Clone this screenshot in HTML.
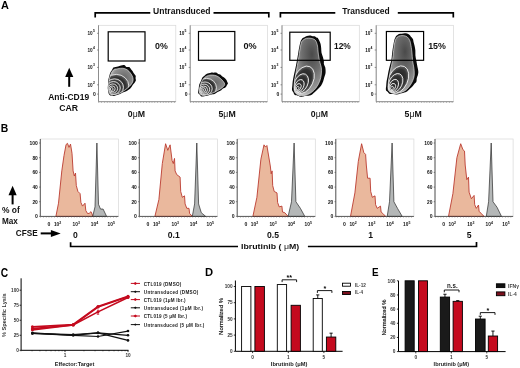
<!DOCTYPE html>
<html><head><meta charset="utf-8"><style>
html,body{margin:0;padding:0;background:#fff;width:520px;height:368px;overflow:hidden}
svg{display:block;font-family:"Liberation Sans",sans-serif;will-change:transform}
</style></head><body>
<svg width="520" height="368" viewBox="0 0 520 368">
<rect width="520" height="368" fill="#fff"/>
<defs>
<radialGradient id="gUn" cx="0.62" cy="0.38" r="0.65"><stop offset="0" stop-color="#666"/><stop offset="0.65" stop-color="#909090"/><stop offset="1" stop-color="#d8d8d8"/></radialGradient>
<radialGradient id="gTr" cx="0.62" cy="0.3" r="0.75" fx="0.65" fy="0.28"><stop offset="0" stop-color="#4a4a4a"/><stop offset="0.45" stop-color="#6e6e6e"/><stop offset="0.8" stop-color="#9a9a9a"/><stop offset="1" stop-color="#c8c8c8"/></radialGradient>
<radialGradient id="gRing" cx="0.5" cy="0.5" r="0.5"><stop offset="0" stop-color="#1c1c1c"/><stop offset="0.74" stop-color="#333"/><stop offset="1" stop-color="#666"/></radialGradient>
</defs>
<text x="1.00" y="9.00" font-size="11.2" font-weight="bold" fill="#000" text-anchor="start" textLength="7.9" lengthAdjust="spacingAndGlyphs" >A</text>
<g fill="none" stroke="#000" stroke-width="1.7">
<path d="M95.2,17.6 V12.8 H150.3"/>
<path d="M213.5,12.8 H268.8 V17.6"/>
<path d="M280.4,17.6 V12.8 H335.3"/>
<path d="M397.8,12.8 H453.3 V17.6"/>
</g>
<text x="153.10" y="14.40" font-size="8.8" font-weight="bold" fill="#111" text-anchor="start" textLength="57.5" lengthAdjust="spacingAndGlyphs" >Untransduced</text>
<text x="342.30" y="14.40" font-size="8.8" font-weight="bold" fill="#111" text-anchor="start" textLength="47.4" lengthAdjust="spacingAndGlyphs" >Transduced</text>
<rect x="98.5" y="25.3" width="77.3" height="76.4" fill="none" stroke="#d8d8d8" stroke-width="0.7"/>
<path d="M98.5,25.3 V101.7 H175.8" fill="none" stroke="#777" stroke-width="0.8"/>
<path d="M98.5,102.3 H175.8" fill="none" stroke="#888" stroke-width="1" stroke-dasharray="0.6,2.2"/>
<path d="M97.0,33.3 H98.5" stroke="#555" stroke-width="0.6"/>
<text x="87.50" y="35.00" font-size="5.0" font-weight="bold" fill="#111" text-anchor="start" textLength="5.2" lengthAdjust="spacingAndGlyphs" >10</text>
<text x="92.90" y="32.20" font-size="3.4" font-weight="bold" fill="#111" text-anchor="start" >5</text>
<path d="M97.0,50.0 H98.5" stroke="#555" stroke-width="0.6"/>
<text x="87.50" y="51.70" font-size="5.0" font-weight="bold" fill="#111" text-anchor="start" textLength="5.2" lengthAdjust="spacingAndGlyphs" >10</text>
<text x="92.90" y="48.90" font-size="3.4" font-weight="bold" fill="#111" text-anchor="start" >4</text>
<path d="M97.0,67.4 H98.5" stroke="#555" stroke-width="0.6"/>
<text x="87.50" y="69.10" font-size="5.0" font-weight="bold" fill="#111" text-anchor="start" textLength="5.2" lengthAdjust="spacingAndGlyphs" >10</text>
<text x="92.90" y="66.30" font-size="3.4" font-weight="bold" fill="#111" text-anchor="start" >3</text>
<path d="M97.0,84.8 H98.5" stroke="#555" stroke-width="0.6"/>
<text x="87.50" y="86.50" font-size="5.0" font-weight="bold" fill="#111" text-anchor="start" textLength="5.2" lengthAdjust="spacingAndGlyphs" >10</text>
<text x="92.90" y="83.70" font-size="3.4" font-weight="bold" fill="#111" text-anchor="start" >2</text>
<path d="M97.0,94.1 H98.5" stroke="#555" stroke-width="0.6"/>
<text x="93.10" y="95.90" font-size="5.0" font-weight="bold" fill="#111" text-anchor="start" >0</text>
<rect x="190.2" y="25.3" width="77.3" height="76.4" fill="none" stroke="#d8d8d8" stroke-width="0.7"/>
<path d="M190.2,25.3 V101.7 H267.5" fill="none" stroke="#777" stroke-width="0.8"/>
<path d="M190.2,102.3 H267.5" fill="none" stroke="#888" stroke-width="1" stroke-dasharray="0.6,2.2"/>
<path d="M188.7,33.3 H190.2" stroke="#555" stroke-width="0.6"/>
<text x="179.20" y="35.00" font-size="5.0" font-weight="bold" fill="#111" text-anchor="start" textLength="5.2" lengthAdjust="spacingAndGlyphs" >10</text>
<text x="184.60" y="32.20" font-size="3.4" font-weight="bold" fill="#111" text-anchor="start" >5</text>
<path d="M188.7,50.0 H190.2" stroke="#555" stroke-width="0.6"/>
<text x="179.20" y="51.70" font-size="5.0" font-weight="bold" fill="#111" text-anchor="start" textLength="5.2" lengthAdjust="spacingAndGlyphs" >10</text>
<text x="184.60" y="48.90" font-size="3.4" font-weight="bold" fill="#111" text-anchor="start" >4</text>
<path d="M188.7,67.4 H190.2" stroke="#555" stroke-width="0.6"/>
<text x="179.20" y="69.10" font-size="5.0" font-weight="bold" fill="#111" text-anchor="start" textLength="5.2" lengthAdjust="spacingAndGlyphs" >10</text>
<text x="184.60" y="66.30" font-size="3.4" font-weight="bold" fill="#111" text-anchor="start" >3</text>
<path d="M188.7,84.8 H190.2" stroke="#555" stroke-width="0.6"/>
<text x="179.20" y="86.50" font-size="5.0" font-weight="bold" fill="#111" text-anchor="start" textLength="5.2" lengthAdjust="spacingAndGlyphs" >10</text>
<text x="184.60" y="83.70" font-size="3.4" font-weight="bold" fill="#111" text-anchor="start" >2</text>
<path d="M188.7,94.1 H190.2" stroke="#555" stroke-width="0.6"/>
<text x="184.80" y="95.90" font-size="5.0" font-weight="bold" fill="#111" text-anchor="start" >0</text>
<rect x="282.0" y="25.3" width="77.3" height="76.4" fill="none" stroke="#d8d8d8" stroke-width="0.7"/>
<path d="M282.0,25.3 V101.7 H359.3" fill="none" stroke="#777" stroke-width="0.8"/>
<path d="M282.0,102.3 H359.3" fill="none" stroke="#888" stroke-width="1" stroke-dasharray="0.6,2.2"/>
<path d="M280.5,33.3 H282.0" stroke="#555" stroke-width="0.6"/>
<text x="271.00" y="35.00" font-size="5.0" font-weight="bold" fill="#111" text-anchor="start" textLength="5.2" lengthAdjust="spacingAndGlyphs" >10</text>
<text x="276.40" y="32.20" font-size="3.4" font-weight="bold" fill="#111" text-anchor="start" >5</text>
<path d="M280.5,50.0 H282.0" stroke="#555" stroke-width="0.6"/>
<text x="271.00" y="51.70" font-size="5.0" font-weight="bold" fill="#111" text-anchor="start" textLength="5.2" lengthAdjust="spacingAndGlyphs" >10</text>
<text x="276.40" y="48.90" font-size="3.4" font-weight="bold" fill="#111" text-anchor="start" >4</text>
<path d="M280.5,67.4 H282.0" stroke="#555" stroke-width="0.6"/>
<text x="271.00" y="69.10" font-size="5.0" font-weight="bold" fill="#111" text-anchor="start" textLength="5.2" lengthAdjust="spacingAndGlyphs" >10</text>
<text x="276.40" y="66.30" font-size="3.4" font-weight="bold" fill="#111" text-anchor="start" >3</text>
<path d="M280.5,84.8 H282.0" stroke="#555" stroke-width="0.6"/>
<text x="271.00" y="86.50" font-size="5.0" font-weight="bold" fill="#111" text-anchor="start" textLength="5.2" lengthAdjust="spacingAndGlyphs" >10</text>
<text x="276.40" y="83.70" font-size="3.4" font-weight="bold" fill="#111" text-anchor="start" >2</text>
<path d="M280.5,94.1 H282.0" stroke="#555" stroke-width="0.6"/>
<text x="276.60" y="95.90" font-size="5.0" font-weight="bold" fill="#111" text-anchor="start" >0</text>
<rect x="376.2" y="25.3" width="77.3" height="76.4" fill="none" stroke="#d8d8d8" stroke-width="0.7"/>
<path d="M376.2,25.3 V101.7 H453.5" fill="none" stroke="#777" stroke-width="0.8"/>
<path d="M376.2,102.3 H453.5" fill="none" stroke="#888" stroke-width="1" stroke-dasharray="0.6,2.2"/>
<path d="M374.7,33.3 H376.2" stroke="#555" stroke-width="0.6"/>
<text x="365.20" y="35.00" font-size="5.0" font-weight="bold" fill="#111" text-anchor="start" textLength="5.2" lengthAdjust="spacingAndGlyphs" >10</text>
<text x="370.60" y="32.20" font-size="3.4" font-weight="bold" fill="#111" text-anchor="start" >5</text>
<path d="M374.7,50.0 H376.2" stroke="#555" stroke-width="0.6"/>
<text x="365.20" y="51.70" font-size="5.0" font-weight="bold" fill="#111" text-anchor="start" textLength="5.2" lengthAdjust="spacingAndGlyphs" >10</text>
<text x="370.60" y="48.90" font-size="3.4" font-weight="bold" fill="#111" text-anchor="start" >4</text>
<path d="M374.7,67.4 H376.2" stroke="#555" stroke-width="0.6"/>
<text x="365.20" y="69.10" font-size="5.0" font-weight="bold" fill="#111" text-anchor="start" textLength="5.2" lengthAdjust="spacingAndGlyphs" >10</text>
<text x="370.60" y="66.30" font-size="3.4" font-weight="bold" fill="#111" text-anchor="start" >3</text>
<path d="M374.7,84.8 H376.2" stroke="#555" stroke-width="0.6"/>
<text x="365.20" y="86.50" font-size="5.0" font-weight="bold" fill="#111" text-anchor="start" textLength="5.2" lengthAdjust="spacingAndGlyphs" >10</text>
<text x="370.60" y="83.70" font-size="3.4" font-weight="bold" fill="#111" text-anchor="start" >2</text>
<path d="M374.7,94.1 H376.2" stroke="#555" stroke-width="0.6"/>
<text x="370.80" y="95.90" font-size="5.0" font-weight="bold" fill="#111" text-anchor="start" >0</text>
<path d="M108.56,93.24 C108.37,92.61 108.31,91.49 108.18,90.62 C108.04,89.75 107.76,89.13 107.75,88.03 C107.74,86.92 108.03,85.34 108.12,84.00 C108.21,82.66 108.11,81.25 108.29,79.99 C108.47,78.73 108.89,77.63 109.20,76.46 C109.50,75.29 109.69,73.98 110.14,72.95 C110.58,71.93 111.31,71.22 111.87,70.32 C112.42,69.42 112.83,68.11 113.48,67.56 C114.12,67.00 114.99,67.18 115.75,66.99 C116.50,66.80 117.13,66.66 118.00,66.41 C118.88,66.15 119.98,65.66 121.00,65.45 C122.03,65.23 123.24,64.87 124.14,65.12 C125.04,65.36 125.56,66.59 126.41,66.92 C127.27,67.25 128.53,66.74 129.29,67.12 C130.05,67.49 130.44,68.49 131.00,69.16 C131.56,69.83 132.18,70.40 132.67,71.14 C133.16,71.88 133.45,72.81 133.95,73.60 C134.45,74.39 135.39,75.10 135.66,75.87 C135.93,76.64 135.53,77.45 135.56,78.22 C135.60,78.99 136.05,79.74 135.89,80.48 C135.73,81.23 135.12,81.98 134.62,82.69 C134.11,83.40 133.35,84.09 132.86,84.76 C132.37,85.43 132.14,86.07 131.67,86.72 C131.20,87.36 130.65,88.05 130.03,88.63 C129.40,89.22 128.64,89.75 127.91,90.23 C127.18,90.71 126.50,91.12 125.63,91.49 C124.77,91.86 123.65,92.06 122.71,92.47 C121.78,92.87 120.97,93.51 120.02,93.92 C119.07,94.34 118.02,94.64 117.01,94.97 C116.00,95.30 114.76,95.82 113.94,95.92 C113.12,96.03 112.72,95.69 112.10,95.60 C111.47,95.52 110.65,95.61 110.19,95.41 C109.73,95.21 109.59,94.76 109.32,94.40 C109.04,94.04 108.75,93.87 108.56,93.24Z" fill="#0a0a0a"/>
<clipPath id="clb1"><path d="M109.27,92.35 C108.92,91.26 108.60,89.71 108.57,87.77 C108.54,85.84 108.75,82.93 109.10,80.73 C109.45,78.53 109.93,76.39 110.68,74.57 C111.43,72.75 112.44,70.79 113.59,69.82 C114.73,68.85 116.01,69.03 117.55,68.77 C119.09,68.50 121.21,68.06 122.83,68.24 C124.44,68.41 125.97,69.03 127.23,69.82 C128.49,70.61 129.47,71.76 130.39,72.99 C131.32,74.22 132.35,75.85 132.77,77.21 C133.20,78.58 133.28,79.88 132.95,81.17 C132.61,82.46 131.63,83.83 130.75,84.96 C129.87,86.09 128.77,87.01 127.67,87.95 C126.57,88.89 125.54,89.71 124.15,90.59 C122.75,91.47 120.99,92.55 119.31,93.23 C117.62,93.90 115.46,94.46 114.03,94.64 C112.59,94.81 111.47,94.67 110.68,94.29 C109.89,93.90 109.63,93.43 109.27,92.35Z"/></clipPath>
<path d="M109.27,92.35 C108.92,91.26 108.60,89.71 108.57,87.77 C108.54,85.84 108.75,82.93 109.10,80.73 C109.45,78.53 109.93,76.39 110.68,74.57 C111.43,72.75 112.44,70.79 113.59,69.82 C114.73,68.85 116.01,69.03 117.55,68.77 C119.09,68.50 121.21,68.06 122.83,68.24 C124.44,68.41 125.97,69.03 127.23,69.82 C128.49,70.61 129.47,71.76 130.39,72.99 C131.32,74.22 132.35,75.85 132.77,77.21 C133.20,78.58 133.28,79.88 132.95,81.17 C132.61,82.46 131.63,83.83 130.75,84.96 C129.87,86.09 128.77,87.01 127.67,87.95 C126.57,88.89 125.54,89.71 124.15,90.59 C122.75,91.47 120.99,92.55 119.31,93.23 C117.62,93.90 115.46,94.46 114.03,94.64 C112.59,94.81 111.47,94.67 110.68,94.29 C109.89,93.90 109.63,93.43 109.27,92.35Z" fill="url(#gUn)"/>
<g clip-path="url(#clb1)">
<ellipse cx="116.30" cy="85.90" rx="12.5" ry="11.5" transform="rotate(0 116.30 85.90)" fill="url(#gRing)" stroke="#eeeeee" stroke-width="0.85"/>
<ellipse cx="114.50" cy="87.30" rx="9.0" ry="8.5" transform="rotate(0 114.50 87.30)" fill="url(#gRing)" stroke="#eeeeee" stroke-width="0.85"/>
<ellipse cx="113.50" cy="88.00" rx="6.8" ry="6.5" transform="rotate(0 113.50 88.00)" fill="url(#gRing)" stroke="#eeeeee" stroke-width="0.85"/>
<ellipse cx="112.80" cy="88.50" rx="4.8" ry="4.6" transform="rotate(0 112.80 88.50)" fill="url(#gRing)" stroke="#eeeeee" stroke-width="0.85"/>
<ellipse cx="112.20" cy="88.80" rx="3.0" ry="2.9" transform="rotate(0 112.20 88.80)" fill="url(#gRing)" stroke="#eeeeee" stroke-width="0.85"/>
<ellipse cx="111.70" cy="89.00" rx="1.4" ry="1.4" transform="rotate(0 111.70 89.00)" fill="url(#gRing)" stroke="#eeeeee" stroke-width="0.85"/>
</g>
<path d="M109.27,92.35 C108.92,91.26 108.60,89.71 108.57,87.77 C108.54,85.84 108.75,82.93 109.10,80.73 C109.45,78.53 109.93,76.39 110.68,74.57 C111.43,72.75 112.44,70.79 113.59,69.82 C114.73,68.85 116.01,69.03 117.55,68.77 C119.09,68.50 121.21,68.06 122.83,68.24 C124.44,68.41 125.97,69.03 127.23,69.82 C128.49,70.61 129.47,71.76 130.39,72.99 C131.32,74.22 132.35,75.85 132.77,77.21 C133.20,78.58 133.28,79.88 132.95,81.17 C132.61,82.46 131.63,83.83 130.75,84.96 C129.87,86.09 128.77,87.01 127.67,87.95 C126.57,88.89 125.54,89.71 124.15,90.59 C122.75,91.47 120.99,92.55 119.31,93.23 C117.62,93.90 115.46,94.46 114.03,94.64 C112.59,94.81 111.47,94.67 110.68,94.29 C109.89,93.90 109.63,93.43 109.27,92.35Z" fill="none" stroke="#eeeeee" stroke-width="0.6"/>
<path d="M198.16,93.03 C197.97,92.04 198.51,90.20 198.70,88.78 C198.88,87.36 198.88,85.80 199.26,84.51 C199.63,83.21 200.42,82.18 200.95,81.00 C201.47,79.82 201.83,78.33 202.41,77.45 C202.99,76.56 203.76,76.28 204.44,75.69 C205.11,75.11 205.73,74.33 206.45,73.94 C207.18,73.54 208.01,73.55 208.76,73.33 C209.52,73.12 210.22,72.76 211.01,72.65 C211.80,72.55 212.65,72.72 213.50,72.70 C214.35,72.69 215.34,72.37 216.11,72.56 C216.87,72.76 217.38,73.55 218.09,73.88 C218.79,74.21 219.61,74.08 220.33,74.53 C221.04,74.98 221.60,75.96 222.37,76.58 C223.15,77.20 224.31,77.68 224.99,78.26 C225.68,78.84 226.08,79.45 226.47,80.07 C226.86,80.69 227.07,81.43 227.31,81.98 C227.56,82.54 227.99,82.91 227.95,83.38 C227.91,83.84 227.34,84.30 227.08,84.79 C226.82,85.27 226.75,85.79 226.41,86.29 C226.07,86.79 225.72,87.35 225.05,87.78 C224.38,88.22 223.09,88.42 222.38,88.89 C221.68,89.35 221.60,90.04 220.81,90.58 C220.01,91.11 218.66,91.51 217.62,92.09 C216.58,92.67 215.72,93.64 214.58,94.05 C213.43,94.47 212.02,94.29 210.75,94.58 C209.49,94.88 208.07,95.58 206.97,95.85 C205.88,96.12 205.10,96.10 204.17,96.20 C203.25,96.30 202.17,96.70 201.45,96.45 C200.73,96.20 200.39,95.27 199.85,94.70 C199.30,94.13 198.35,94.01 198.16,93.03Z" fill="#0a0a0a"/>
<clipPath id="clb2"><path d="M199.43,92.33 C199.13,90.65 199.84,87.30 200.46,85.11 C201.07,82.91 202.11,80.64 203.12,79.16 C204.14,77.67 205.35,76.88 206.56,76.18 C207.78,75.49 209.07,75.13 210.43,74.99 C211.80,74.85 213.42,75.03 214.73,75.33 C216.05,75.63 217.13,76.00 218.35,76.78 C219.56,77.56 221.04,78.97 222.04,80.01 C223.05,81.04 223.96,82.09 224.37,82.98 C224.77,83.87 224.84,84.57 224.45,85.36 C224.07,86.15 223.02,86.96 222.04,87.74 C221.07,88.52 220.04,89.21 218.60,90.04 C217.17,90.86 215.38,91.89 213.44,92.67 C211.51,93.45 208.86,94.29 206.99,94.71 C205.13,95.14 203.53,95.62 202.26,95.22 C201.00,94.82 199.73,94.02 199.43,92.33Z"/></clipPath>
<path d="M199.43,92.33 C199.13,90.65 199.84,87.30 200.46,85.11 C201.07,82.91 202.11,80.64 203.12,79.16 C204.14,77.67 205.35,76.88 206.56,76.18 C207.78,75.49 209.07,75.13 210.43,74.99 C211.80,74.85 213.42,75.03 214.73,75.33 C216.05,75.63 217.13,76.00 218.35,76.78 C219.56,77.56 221.04,78.97 222.04,80.01 C223.05,81.04 223.96,82.09 224.37,82.98 C224.77,83.87 224.84,84.57 224.45,85.36 C224.07,86.15 223.02,86.96 222.04,87.74 C221.07,88.52 220.04,89.21 218.60,90.04 C217.17,90.86 215.38,91.89 213.44,92.67 C211.51,93.45 208.86,94.29 206.99,94.71 C205.13,95.14 203.53,95.62 202.26,95.22 C201.00,94.82 199.73,94.02 199.43,92.33Z" fill="url(#gUn)"/>
<g clip-path="url(#clb2)">
<ellipse cx="206.48" cy="87.60" rx="10.0" ry="9.200000000000001" transform="rotate(0 206.48 87.60)" fill="url(#gRing)" stroke="#eeeeee" stroke-width="0.85"/>
<ellipse cx="205.04" cy="88.72" rx="7.2" ry="6.800000000000001" transform="rotate(0 205.04 88.72)" fill="url(#gRing)" stroke="#eeeeee" stroke-width="0.85"/>
<ellipse cx="204.24" cy="89.28" rx="5.44" ry="5.2" transform="rotate(0 204.24 89.28)" fill="url(#gRing)" stroke="#eeeeee" stroke-width="0.85"/>
<ellipse cx="203.68" cy="89.68" rx="3.84" ry="3.6799999999999997" transform="rotate(0 203.68 89.68)" fill="url(#gRing)" stroke="#eeeeee" stroke-width="0.85"/>
<ellipse cx="203.20" cy="89.92" rx="2.4000000000000004" ry="2.32" transform="rotate(0 203.20 89.92)" fill="url(#gRing)" stroke="#eeeeee" stroke-width="0.85"/>
<ellipse cx="202.80" cy="90.08" rx="1.1199999999999999" ry="1.1199999999999999" transform="rotate(0 202.80 90.08)" fill="url(#gRing)" stroke="#eeeeee" stroke-width="0.85"/>
</g>
<path d="M199.43,92.33 C199.13,90.65 199.84,87.30 200.46,85.11 C201.07,82.91 202.11,80.64 203.12,79.16 C204.14,77.67 205.35,76.88 206.56,76.18 C207.78,75.49 209.07,75.13 210.43,74.99 C211.80,74.85 213.42,75.03 214.73,75.33 C216.05,75.63 217.13,76.00 218.35,76.78 C219.56,77.56 221.04,78.97 222.04,80.01 C223.05,81.04 223.96,82.09 224.37,82.98 C224.77,83.87 224.84,84.57 224.45,85.36 C224.07,86.15 223.02,86.96 222.04,87.74 C221.07,88.52 220.04,89.21 218.60,90.04 C217.17,90.86 215.38,91.89 213.44,92.67 C211.51,93.45 208.86,94.29 206.99,94.71 C205.13,95.14 203.53,95.62 202.26,95.22 C201.00,94.82 199.73,94.02 199.43,92.33Z" fill="none" stroke="#eeeeee" stroke-width="0.6"/>
<path d="M302.18,38.51 C302.70,38.04 303.74,37.63 304.53,37.24 C305.32,36.84 306.03,36.43 306.90,36.12 C307.77,35.82 308.81,35.39 309.76,35.40 C310.71,35.41 311.79,36.04 312.59,36.19 C313.39,36.34 313.94,36.08 314.57,36.28 C315.20,36.48 315.84,37.14 316.35,37.38 C316.86,37.63 317.27,37.44 317.64,37.76 C318.01,38.08 318.21,38.72 318.55,39.32 C318.89,39.93 319.33,40.61 319.67,41.38 C320.02,42.14 320.36,42.79 320.61,43.93 C320.87,45.06 321.04,46.72 321.19,48.18 C321.34,49.64 321.24,51.25 321.51,52.70 C321.78,54.14 322.42,55.41 322.81,56.85 C323.20,58.28 323.69,60.06 323.88,61.30 C324.07,62.53 323.71,63.27 323.93,64.24 C324.16,65.22 324.94,66.07 325.22,67.15 C325.50,68.23 325.58,69.57 325.60,70.72 C325.63,71.87 325.61,72.88 325.37,74.04 C325.13,75.21 324.54,76.48 324.16,77.71 C323.79,78.94 323.64,80.07 323.11,81.41 C322.58,82.76 321.82,84.55 321.00,85.78 C320.19,87.01 319.30,87.73 318.23,88.81 C317.16,89.90 315.84,91.24 314.58,92.31 C313.33,93.38 312.16,94.66 310.72,95.25 C309.29,95.83 307.54,95.53 305.95,95.82 C304.37,96.12 302.54,97.00 301.20,97.01 C299.86,97.01 299.00,96.23 297.90,95.85 C296.80,95.48 295.34,95.34 294.58,94.75 C293.82,94.16 293.77,93.11 293.34,92.31 C292.92,91.52 292.20,91.10 292.03,90.01 C291.86,88.91 292.21,87.19 292.32,85.76 C292.43,84.32 292.49,82.92 292.70,81.40 C292.90,79.89 293.23,78.29 293.55,76.68 C293.88,75.08 294.22,73.70 294.64,71.78 C295.05,69.85 295.59,67.36 296.04,65.15 C296.49,62.93 296.95,60.54 297.33,58.47 C297.70,56.40 297.95,54.64 298.27,52.72 C298.59,50.81 298.97,48.42 299.24,47.00 C299.51,45.59 299.67,45.14 299.88,44.22 C300.10,43.30 300.30,42.17 300.56,41.49 C300.81,40.80 301.13,40.60 301.40,40.10 C301.67,39.61 301.65,38.99 302.18,38.51Z" fill="#0a0a0a"/>
<clipPath id="clb3"><path d="M302.42,40.67 C303.29,39.80 304.88,38.70 306.32,38.31 C307.75,37.91 309.73,38.13 311.05,38.31 C312.36,38.48 313.37,38.86 314.20,39.35 C315.03,39.84 315.47,40.12 316.03,41.24 C316.58,42.36 317.13,43.91 317.52,46.06 C317.91,48.20 317.96,51.40 318.35,54.09 C318.74,56.78 319.35,59.96 319.85,62.22 C320.34,64.47 321.09,65.65 321.34,67.60 C321.59,69.56 321.60,71.68 321.34,73.93 C321.08,76.19 320.69,78.72 319.76,81.12 C318.84,83.51 317.49,86.20 315.78,88.30 C314.06,90.39 311.84,92.42 309.47,93.68 C307.10,94.94 303.81,95.86 301.59,95.86 C299.36,95.86 297.37,94.80 296.11,93.68 C294.85,92.57 294.29,91.24 294.03,89.15 C293.77,87.05 294.18,83.97 294.53,81.12 C294.88,78.27 295.46,75.65 296.11,72.04 C296.76,68.44 297.78,63.37 298.43,59.48 C299.08,55.59 299.57,51.36 300.01,48.70 C300.45,46.04 300.69,44.84 301.09,43.51 C301.49,42.17 301.54,41.54 302.42,40.67Z"/></clipPath>
<path d="M302.42,40.67 C303.29,39.80 304.88,38.70 306.32,38.31 C307.75,37.91 309.73,38.13 311.05,38.31 C312.36,38.48 313.37,38.86 314.20,39.35 C315.03,39.84 315.47,40.12 316.03,41.24 C316.58,42.36 317.13,43.91 317.52,46.06 C317.91,48.20 317.96,51.40 318.35,54.09 C318.74,56.78 319.35,59.96 319.85,62.22 C320.34,64.47 321.09,65.65 321.34,67.60 C321.59,69.56 321.60,71.68 321.34,73.93 C321.08,76.19 320.69,78.72 319.76,81.12 C318.84,83.51 317.49,86.20 315.78,88.30 C314.06,90.39 311.84,92.42 309.47,93.68 C307.10,94.94 303.81,95.86 301.59,95.86 C299.36,95.86 297.37,94.80 296.11,93.68 C294.85,92.57 294.29,91.24 294.03,89.15 C293.77,87.05 294.18,83.97 294.53,81.12 C294.88,78.27 295.46,75.65 296.11,72.04 C296.76,68.44 297.78,63.37 298.43,59.48 C299.08,55.59 299.57,51.36 300.01,48.70 C300.45,46.04 300.69,44.84 301.09,43.51 C301.49,42.17 301.54,41.54 302.42,40.67Z" fill="url(#gTr)"/>
<g clip-path="url(#clb3)">
<ellipse cx="303.80" cy="79.80" rx="9.5" ry="14.5" transform="rotate(25 303.80 79.80)" fill="url(#gRing)" stroke="#eeeeee" stroke-width="0.85"/>
<ellipse cx="301.20" cy="83.20" rx="6.6" ry="10" transform="rotate(25 301.20 83.20)" fill="url(#gRing)" stroke="#eeeeee" stroke-width="0.85"/>
<ellipse cx="299.40" cy="85.70" rx="4.3" ry="6.5" transform="rotate(25 299.40 85.70)" fill="url(#gRing)" stroke="#eeeeee" stroke-width="0.85"/>
<ellipse cx="298.20" cy="87.30" rx="2.6" ry="3.9" transform="rotate(25 298.20 87.30)" fill="url(#gRing)" stroke="#eeeeee" stroke-width="0.85"/>
<ellipse cx="297.60" cy="88.20" rx="1.2" ry="1.8" transform="rotate(25 297.60 88.20)" fill="url(#gRing)" stroke="#eeeeee" stroke-width="0.85"/>
</g>
<path d="M302.42,40.67 C303.29,39.80 304.88,38.70 306.32,38.31 C307.75,37.91 309.73,38.13 311.05,38.31 C312.36,38.48 313.37,38.86 314.20,39.35 C315.03,39.84 315.47,40.12 316.03,41.24 C316.58,42.36 317.13,43.91 317.52,46.06 C317.91,48.20 317.96,51.40 318.35,54.09 C318.74,56.78 319.35,59.96 319.85,62.22 C320.34,64.47 321.09,65.65 321.34,67.60 C321.59,69.56 321.60,71.68 321.34,73.93 C321.08,76.19 320.69,78.72 319.76,81.12 C318.84,83.51 317.49,86.20 315.78,88.30 C314.06,90.39 311.84,92.42 309.47,93.68 C307.10,94.94 303.81,95.86 301.59,95.86 C299.36,95.86 297.37,94.80 296.11,93.68 C294.85,92.57 294.29,91.24 294.03,89.15 C293.77,87.05 294.18,83.97 294.53,81.12 C294.88,78.27 295.46,75.65 296.11,72.04 C296.76,68.44 297.78,63.37 298.43,59.48 C299.08,55.59 299.57,51.36 300.01,48.70 C300.45,46.04 300.69,44.84 301.09,43.51 C301.49,42.17 301.54,41.54 302.42,40.67Z" fill="none" stroke="#eeeeee" stroke-width="0.6"/>
<path d="M398.91,33.96 C399.62,33.73 400.80,33.76 401.75,33.64 C402.70,33.51 403.72,33.20 404.61,33.20 C405.49,33.19 406.26,33.34 407.05,33.61 C407.85,33.89 408.75,34.36 409.37,34.84 C409.98,35.32 410.28,35.98 410.75,36.51 C411.22,37.05 411.79,37.54 412.18,38.05 C412.57,38.56 412.86,38.90 413.09,39.58 C413.31,40.26 413.28,41.04 413.54,42.12 C413.79,43.20 414.30,44.63 414.61,46.04 C414.91,47.44 415.23,48.95 415.37,50.54 C415.50,52.14 415.28,54.00 415.42,55.62 C415.57,57.24 415.99,58.83 416.24,60.26 C416.50,61.68 416.71,62.87 416.96,64.17 C417.20,65.47 417.49,66.72 417.72,68.04 C417.95,69.37 418.33,70.90 418.34,72.12 C418.35,73.34 418.02,74.37 417.76,75.38 C417.50,76.38 417.01,77.10 416.78,78.16 C416.55,79.21 416.80,80.73 416.37,81.73 C415.93,82.73 414.85,83.30 414.15,84.15 C413.45,85.00 412.97,85.96 412.17,86.82 C411.37,87.69 410.30,88.52 409.36,89.34 C408.42,90.17 407.78,91.13 406.51,91.78 C405.24,92.43 403.33,92.79 401.74,93.24 C400.16,93.69 398.43,94.35 397.00,94.48 C395.58,94.62 394.48,94.17 393.20,94.04 C391.93,93.90 390.30,94.04 389.37,93.66 C388.45,93.28 388.25,92.37 387.67,91.75 C387.10,91.13 386.17,90.94 385.93,89.92 C385.69,88.89 386.12,87.05 386.23,85.59 C386.34,84.14 386.37,82.74 386.59,81.21 C386.81,79.69 387.26,78.01 387.56,76.44 C387.86,74.86 388.04,73.50 388.40,71.76 C388.77,70.03 389.27,67.95 389.76,66.04 C390.25,64.13 390.98,62.23 391.35,60.31 C391.72,58.39 391.74,56.46 391.97,54.54 C392.20,52.63 392.48,50.46 392.73,48.80 C392.98,47.14 393.22,45.98 393.46,44.58 C393.71,43.18 393.93,41.49 394.21,40.41 C394.48,39.33 394.81,38.85 395.12,38.10 C395.43,37.35 395.68,36.43 396.08,35.91 C396.47,35.39 397.03,35.29 397.50,34.97 C397.98,34.64 398.20,34.18 398.91,33.96Z" fill="#0a0a0a"/>
<clipPath id="clb4"><path d="M398.63,36.17 C399.79,35.75 401.87,35.48 403.30,35.61 C404.74,35.73 406.20,36.19 407.24,36.93 C408.28,37.67 408.96,38.90 409.53,40.05 C410.11,41.20 410.29,41.81 410.68,43.83 C411.08,45.84 411.58,49.26 411.91,52.14 C412.24,55.03 412.31,58.41 412.65,61.12 C412.99,63.83 413.70,66.00 413.96,68.40 C414.22,70.79 414.43,73.41 414.21,75.49 C413.99,77.56 413.43,79.08 412.65,80.87 C411.87,82.67 410.83,84.60 409.53,86.26 C408.24,87.91 406.94,89.60 404.86,90.79 C402.78,91.99 399.41,93.14 397.07,93.44 C394.73,93.74 392.34,93.33 390.84,92.59 C389.34,91.85 388.43,90.95 388.05,89.00 C387.67,87.05 388.20,83.72 388.54,80.87 C388.88,78.02 389.46,75.19 390.10,71.89 C390.74,68.60 391.81,64.71 392.40,61.12 C392.98,57.53 393.23,53.48 393.63,50.35 C394.02,47.21 394.32,44.35 394.77,42.32 C395.23,40.28 395.69,39.18 396.33,38.16 C396.97,37.13 397.47,36.60 398.63,36.17Z"/></clipPath>
<path d="M398.63,36.17 C399.79,35.75 401.87,35.48 403.30,35.61 C404.74,35.73 406.20,36.19 407.24,36.93 C408.28,37.67 408.96,38.90 409.53,40.05 C410.11,41.20 410.29,41.81 410.68,43.83 C411.08,45.84 411.58,49.26 411.91,52.14 C412.24,55.03 412.31,58.41 412.65,61.12 C412.99,63.83 413.70,66.00 413.96,68.40 C414.22,70.79 414.43,73.41 414.21,75.49 C413.99,77.56 413.43,79.08 412.65,80.87 C411.87,82.67 410.83,84.60 409.53,86.26 C408.24,87.91 406.94,89.60 404.86,90.79 C402.78,91.99 399.41,93.14 397.07,93.44 C394.73,93.74 392.34,93.33 390.84,92.59 C389.34,91.85 388.43,90.95 388.05,89.00 C387.67,87.05 388.20,83.72 388.54,80.87 C388.88,78.02 389.46,75.19 390.10,71.89 C390.74,68.60 391.81,64.71 392.40,61.12 C392.98,57.53 393.23,53.48 393.63,50.35 C394.02,47.21 394.32,44.35 394.77,42.32 C395.23,40.28 395.69,39.18 396.33,38.16 C396.97,37.13 397.47,36.60 398.63,36.17Z" fill="url(#gTr)"/>
<g clip-path="url(#clb4)">
<ellipse cx="398.20" cy="79.60" rx="9.5" ry="14.5" transform="rotate(25 398.20 79.60)" fill="url(#gRing)" stroke="#eeeeee" stroke-width="0.85"/>
<ellipse cx="395.60" cy="83.00" rx="6.6" ry="10" transform="rotate(25 395.60 83.00)" fill="url(#gRing)" stroke="#eeeeee" stroke-width="0.85"/>
<ellipse cx="393.80" cy="85.50" rx="4.3" ry="6.5" transform="rotate(25 393.80 85.50)" fill="url(#gRing)" stroke="#eeeeee" stroke-width="0.85"/>
<ellipse cx="392.60" cy="87.10" rx="2.6" ry="3.9" transform="rotate(25 392.60 87.10)" fill="url(#gRing)" stroke="#eeeeee" stroke-width="0.85"/>
<ellipse cx="392.00" cy="88.00" rx="1.2" ry="1.8" transform="rotate(25 392.00 88.00)" fill="url(#gRing)" stroke="#eeeeee" stroke-width="0.85"/>
</g>
<path d="M398.63,36.17 C399.79,35.75 401.87,35.48 403.30,35.61 C404.74,35.73 406.20,36.19 407.24,36.93 C408.28,37.67 408.96,38.90 409.53,40.05 C410.11,41.20 410.29,41.81 410.68,43.83 C411.08,45.84 411.58,49.26 411.91,52.14 C412.24,55.03 412.31,58.41 412.65,61.12 C412.99,63.83 413.70,66.00 413.96,68.40 C414.22,70.79 414.43,73.41 414.21,75.49 C413.99,77.56 413.43,79.08 412.65,80.87 C411.87,82.67 410.83,84.60 409.53,86.26 C408.24,87.91 406.94,89.60 404.86,90.79 C402.78,91.99 399.41,93.14 397.07,93.44 C394.73,93.74 392.34,93.33 390.84,92.59 C389.34,91.85 388.43,90.95 388.05,89.00 C387.67,87.05 388.20,83.72 388.54,80.87 C388.88,78.02 389.46,75.19 390.10,71.89 C390.74,68.60 391.81,64.71 392.40,61.12 C392.98,57.53 393.23,53.48 393.63,50.35 C394.02,47.21 394.32,44.35 394.77,42.32 C395.23,40.28 395.69,39.18 396.33,38.16 C396.97,37.13 397.47,36.60 398.63,36.17Z" fill="none" stroke="#eeeeee" stroke-width="0.6"/>
<rect x="108.2" y="31.8" width="36.80" height="29.20" fill="none" stroke="#000" stroke-width="1.2"/>
<rect x="198.5" y="31.5" width="36.30" height="28.80" fill="none" stroke="#000" stroke-width="1.2"/>
<rect x="289.8" y="32.2" width="40.40" height="28.10" fill="none" stroke="#000" stroke-width="1.2"/>
<rect x="386.4" y="31.5" width="37.20" height="28.80" fill="none" stroke="#000" stroke-width="1.2"/>
<text x="155.00" y="49.30" font-size="9.7" font-weight="bold" fill="#111" text-anchor="start" textLength="12.8" lengthAdjust="spacingAndGlyphs" >0%</text>
<text x="243.40" y="49.30" font-size="9.7" font-weight="bold" fill="#111" text-anchor="start" textLength="13.2" lengthAdjust="spacingAndGlyphs" >0%</text>
<text x="334.00" y="49.30" font-size="9.7" font-weight="bold" fill="#111" text-anchor="start" textLength="16.8" lengthAdjust="spacingAndGlyphs" >12%</text>
<text x="428.20" y="49.30" font-size="9.7" font-weight="bold" fill="#111" text-anchor="start" textLength="17.7" lengthAdjust="spacingAndGlyphs" >15%</text>
<text x="127.8" y="116.9" font-size="8.5" fill="#111" textLength="17.2" lengthAdjust="spacingAndGlyphs"><tspan font-weight="bold">0</tspan><tspan font-weight="normal">&#956;</tspan><tspan font-weight="bold">M</tspan></text>
<text x="218.5" y="116.9" font-size="8.5" fill="#111" textLength="17.2" lengthAdjust="spacingAndGlyphs"><tspan font-weight="bold">5</tspan><tspan font-weight="normal">&#956;</tspan><tspan font-weight="bold">M</tspan></text>
<text x="310.8" y="116.9" font-size="8.5" fill="#111" textLength="17.2" lengthAdjust="spacingAndGlyphs"><tspan font-weight="bold">0</tspan><tspan font-weight="normal">&#956;</tspan><tspan font-weight="bold">M</tspan></text>
<text x="404.6" y="116.9" font-size="8.5" fill="#111" textLength="17.2" lengthAdjust="spacingAndGlyphs"><tspan font-weight="bold">5</tspan><tspan font-weight="normal">&#956;</tspan><tspan font-weight="bold">M</tspan></text>
<path d="M69.2,86.8 V76" stroke="#000" stroke-width="2"/>
<path d="M69.2,67.7 L73.3,77.1 L65.2,77.1 Z" fill="#000"/>
<text x="48.20" y="100.10" font-size="8.6" font-weight="bold" fill="#111" text-anchor="start" textLength="41" lengthAdjust="spacingAndGlyphs" >Anti-CD19</text>
<text x="59.20" y="111.20" font-size="8.6" font-weight="bold" fill="#111" text-anchor="start" textLength="18.9" lengthAdjust="spacingAndGlyphs" >CAR</text>
<text x="0.80" y="131.90" font-size="11.0" font-weight="bold" fill="#000" text-anchor="start" textLength="7.5" lengthAdjust="spacingAndGlyphs" >B</text>
<rect x="40.3" y="139.0" width="78.1" height="77.40" fill="none" stroke="#d8d8d8" stroke-width="0.7"/>
<polygon points="55.90,216.40 58.50,203.19 61.80,170.89 64.00,155.48 66.10,144.47 67.50,143.37 69.00,147.40 70.50,144.10 72.00,153.28 73.10,170.89 74.30,176.03 75.50,173.09 76.30,185.57 77.90,191.44 80.10,193.65 80.90,202.45 82.50,206.12 85.00,203.19 85.80,210.53 87.50,213.46 89.10,213.46 91.00,211.63 93.00,216.40" fill="#eab89d" stroke="#bb3b30" stroke-width="0.9" stroke-linejoin="round"/>
<polygon points="92.70,216.40 95.00,206.86 96.90,143.00 98.50,204.29 100.50,209.06 103.10,209.06 104.50,212.00 106.60,216.40" fill="#b4b7b7" stroke="#2a2a2a" stroke-width="0.7" stroke-linejoin="round"/>
<path d="M40.3,139.0 V216.4 H118.39999999999999" fill="none" stroke="#333" stroke-width="0.8"/>
<path d="M40.3,217.0 H118.39999999999999" fill="none" stroke="#666" stroke-width="1" stroke-dasharray="0.6,2.2"/>
<path d="M39.0,143.0 H40.3" stroke="#444" stroke-width="0.6"/>
<text x="37.80" y="144.80" font-size="5.1" font-weight="bold" fill="#111" text-anchor="end" textLength="8.3" lengthAdjust="spacingAndGlyphs" >100</text>
<path d="M39.0,157.7 H40.3" stroke="#444" stroke-width="0.6"/>
<text x="37.80" y="159.50" font-size="5.1" font-weight="bold" fill="#111" text-anchor="end" textLength="5.4" lengthAdjust="spacingAndGlyphs" >80</text>
<path d="M39.0,172.4 H40.3" stroke="#444" stroke-width="0.6"/>
<text x="37.80" y="174.20" font-size="5.1" font-weight="bold" fill="#111" text-anchor="end" textLength="5.4" lengthAdjust="spacingAndGlyphs" >60</text>
<path d="M39.0,187.1 H40.3" stroke="#444" stroke-width="0.6"/>
<text x="37.80" y="188.90" font-size="5.1" font-weight="bold" fill="#111" text-anchor="end" textLength="5.4" lengthAdjust="spacingAndGlyphs" >40</text>
<path d="M39.0,201.7 H40.3" stroke="#444" stroke-width="0.6"/>
<text x="37.80" y="203.50" font-size="5.1" font-weight="bold" fill="#111" text-anchor="end" textLength="5.4" lengthAdjust="spacingAndGlyphs" >20</text>
<path d="M39.0,216.4 H40.3" stroke="#444" stroke-width="0.6"/>
<text x="37.80" y="218.20" font-size="5.1" font-weight="bold" fill="#111" text-anchor="end" >0</text>
<text x="49.00" y="226.20" font-size="5.1" font-weight="bold" fill="#111" text-anchor="middle" >0</text>
<text x="53.90" y="226.20" font-size="5.1" font-weight="bold" fill="#111" text-anchor="start" textLength="5.3" lengthAdjust="spacingAndGlyphs" >10</text>
<text x="59.30" y="223.60" font-size="3.5" font-weight="bold" fill="#111" text-anchor="start" >2</text>
<text x="72.50" y="226.20" font-size="5.1" font-weight="bold" fill="#111" text-anchor="start" textLength="5.3" lengthAdjust="spacingAndGlyphs" >10</text>
<text x="77.90" y="223.60" font-size="3.5" font-weight="bold" fill="#111" text-anchor="start" >3</text>
<text x="90.80" y="226.20" font-size="5.1" font-weight="bold" fill="#111" text-anchor="start" textLength="5.3" lengthAdjust="spacingAndGlyphs" >10</text>
<text x="96.20" y="223.60" font-size="3.5" font-weight="bold" fill="#111" text-anchor="start" >4</text>
<text x="107.60" y="226.20" font-size="5.1" font-weight="bold" fill="#111" text-anchor="start" textLength="5.3" lengthAdjust="spacingAndGlyphs" >10</text>
<text x="113.00" y="223.60" font-size="3.5" font-weight="bold" fill="#111" text-anchor="start" >5</text>
<rect x="139.3" y="139.0" width="78.1" height="77.40" fill="none" stroke="#d8d8d8" stroke-width="0.7"/>
<polygon points="154.90,216.40 158.90,199.52 162.30,163.55 165.60,143.73 167.80,150.34 170.10,144.84 172.10,160.62 173.30,163.55 174.50,158.41 175.10,170.89 176.70,174.56 180.10,177.13 180.70,191.44 182.30,197.32 184.50,195.85 185.10,203.92 186.80,208.33 189.00,208.33 189.60,213.46 192.30,216.40" fill="#eab89d" stroke="#bb3b30" stroke-width="0.9" stroke-linejoin="round"/>
<polygon points="192.30,216.40 194.60,203.92 196.80,143.00 198.60,203.92 201.30,212.73 205.70,216.40" fill="#b4b7b7" stroke="#2a2a2a" stroke-width="0.7" stroke-linejoin="round"/>
<path d="M139.3,139.0 V216.4 H217.4" fill="none" stroke="#333" stroke-width="0.8"/>
<path d="M139.3,217.0 H217.4" fill="none" stroke="#666" stroke-width="1" stroke-dasharray="0.6,2.2"/>
<path d="M138.0,143.0 H139.3" stroke="#444" stroke-width="0.6"/>
<text x="136.80" y="144.80" font-size="5.1" font-weight="bold" fill="#111" text-anchor="end" textLength="8.3" lengthAdjust="spacingAndGlyphs" >100</text>
<path d="M138.0,157.7 H139.3" stroke="#444" stroke-width="0.6"/>
<text x="136.80" y="159.50" font-size="5.1" font-weight="bold" fill="#111" text-anchor="end" textLength="5.4" lengthAdjust="spacingAndGlyphs" >80</text>
<path d="M138.0,172.4 H139.3" stroke="#444" stroke-width="0.6"/>
<text x="136.80" y="174.20" font-size="5.1" font-weight="bold" fill="#111" text-anchor="end" textLength="5.4" lengthAdjust="spacingAndGlyphs" >60</text>
<path d="M138.0,187.1 H139.3" stroke="#444" stroke-width="0.6"/>
<text x="136.80" y="188.90" font-size="5.1" font-weight="bold" fill="#111" text-anchor="end" textLength="5.4" lengthAdjust="spacingAndGlyphs" >40</text>
<path d="M138.0,201.7 H139.3" stroke="#444" stroke-width="0.6"/>
<text x="136.80" y="203.50" font-size="5.1" font-weight="bold" fill="#111" text-anchor="end" textLength="5.4" lengthAdjust="spacingAndGlyphs" >20</text>
<path d="M138.0,216.4 H139.3" stroke="#444" stroke-width="0.6"/>
<text x="136.80" y="218.20" font-size="5.1" font-weight="bold" fill="#111" text-anchor="end" >0</text>
<text x="148.00" y="226.20" font-size="5.1" font-weight="bold" fill="#111" text-anchor="middle" >0</text>
<text x="152.90" y="226.20" font-size="5.1" font-weight="bold" fill="#111" text-anchor="start" textLength="5.3" lengthAdjust="spacingAndGlyphs" >10</text>
<text x="158.30" y="223.60" font-size="3.5" font-weight="bold" fill="#111" text-anchor="start" >2</text>
<text x="171.50" y="226.20" font-size="5.1" font-weight="bold" fill="#111" text-anchor="start" textLength="5.3" lengthAdjust="spacingAndGlyphs" >10</text>
<text x="176.90" y="223.60" font-size="3.5" font-weight="bold" fill="#111" text-anchor="start" >3</text>
<text x="189.80" y="226.20" font-size="5.1" font-weight="bold" fill="#111" text-anchor="start" textLength="5.3" lengthAdjust="spacingAndGlyphs" >10</text>
<text x="195.20" y="223.60" font-size="3.5" font-weight="bold" fill="#111" text-anchor="start" >4</text>
<text x="206.60" y="226.20" font-size="5.1" font-weight="bold" fill="#111" text-anchor="start" textLength="5.3" lengthAdjust="spacingAndGlyphs" >10</text>
<text x="212.00" y="223.60" font-size="3.5" font-weight="bold" fill="#111" text-anchor="start" >5</text>
<rect x="237.2" y="139.0" width="78.1" height="77.40" fill="none" stroke="#d8d8d8" stroke-width="0.7"/>
<polygon points="252.90,216.40 256.90,197.32 260.90,159.15 264.00,144.84 265.40,147.04 266.90,145.50 270.30,165.97 271.20,173.83 272.10,170.89 272.70,185.57 274.20,191.44 277.00,192.91 277.60,202.45 279.20,206.86 281.90,206.12 282.50,212.00 284.80,212.73 288.10,216.40" fill="#eab89d" stroke="#bb3b30" stroke-width="0.9" stroke-linejoin="round"/>
<polygon points="288.10,216.40 291.50,201.72 294.10,143.00 295.90,201.72 300.40,208.33 304.80,216.40" fill="#b4b7b7" stroke="#2a2a2a" stroke-width="0.7" stroke-linejoin="round"/>
<path d="M237.2,139.0 V216.4 H315.29999999999995" fill="none" stroke="#333" stroke-width="0.8"/>
<path d="M237.2,217.0 H315.29999999999995" fill="none" stroke="#666" stroke-width="1" stroke-dasharray="0.6,2.2"/>
<path d="M235.89999999999998,143.0 H237.2" stroke="#444" stroke-width="0.6"/>
<text x="234.70" y="144.80" font-size="5.1" font-weight="bold" fill="#111" text-anchor="end" textLength="8.3" lengthAdjust="spacingAndGlyphs" >100</text>
<path d="M235.89999999999998,157.7 H237.2" stroke="#444" stroke-width="0.6"/>
<text x="234.70" y="159.50" font-size="5.1" font-weight="bold" fill="#111" text-anchor="end" textLength="5.4" lengthAdjust="spacingAndGlyphs" >80</text>
<path d="M235.89999999999998,172.4 H237.2" stroke="#444" stroke-width="0.6"/>
<text x="234.70" y="174.20" font-size="5.1" font-weight="bold" fill="#111" text-anchor="end" textLength="5.4" lengthAdjust="spacingAndGlyphs" >60</text>
<path d="M235.89999999999998,187.1 H237.2" stroke="#444" stroke-width="0.6"/>
<text x="234.70" y="188.90" font-size="5.1" font-weight="bold" fill="#111" text-anchor="end" textLength="5.4" lengthAdjust="spacingAndGlyphs" >40</text>
<path d="M235.89999999999998,201.7 H237.2" stroke="#444" stroke-width="0.6"/>
<text x="234.70" y="203.50" font-size="5.1" font-weight="bold" fill="#111" text-anchor="end" textLength="5.4" lengthAdjust="spacingAndGlyphs" >20</text>
<path d="M235.89999999999998,216.4 H237.2" stroke="#444" stroke-width="0.6"/>
<text x="234.70" y="218.20" font-size="5.1" font-weight="bold" fill="#111" text-anchor="end" >0</text>
<text x="245.90" y="226.20" font-size="5.1" font-weight="bold" fill="#111" text-anchor="middle" >0</text>
<text x="250.80" y="226.20" font-size="5.1" font-weight="bold" fill="#111" text-anchor="start" textLength="5.3" lengthAdjust="spacingAndGlyphs" >10</text>
<text x="256.20" y="223.60" font-size="3.5" font-weight="bold" fill="#111" text-anchor="start" >2</text>
<text x="269.40" y="226.20" font-size="5.1" font-weight="bold" fill="#111" text-anchor="start" textLength="5.3" lengthAdjust="spacingAndGlyphs" >10</text>
<text x="274.80" y="223.60" font-size="3.5" font-weight="bold" fill="#111" text-anchor="start" >3</text>
<text x="287.70" y="226.20" font-size="5.1" font-weight="bold" fill="#111" text-anchor="start" textLength="5.3" lengthAdjust="spacingAndGlyphs" >10</text>
<text x="293.10" y="223.60" font-size="3.5" font-weight="bold" fill="#111" text-anchor="start" >4</text>
<text x="304.50" y="226.20" font-size="5.1" font-weight="bold" fill="#111" text-anchor="start" textLength="5.3" lengthAdjust="spacingAndGlyphs" >10</text>
<text x="309.90" y="223.60" font-size="3.5" font-weight="bold" fill="#111" text-anchor="start" >5</text>
<rect x="335.8" y="139.0" width="78.1" height="77.40" fill="none" stroke="#d8d8d8" stroke-width="0.7"/>
<polygon points="350.50,216.40 354.90,192.91 358.30,161.35 361.60,143.73 363.80,152.54 365.60,154.38 366.30,165.02 367.60,178.23 370.10,178.23 370.70,191.44 372.30,197.32 375.00,195.85 375.60,204.66 377.20,208.33 380.50,206.12 381.10,212.00 382.80,213.46 385.70,216.40" fill="#eab89d" stroke="#bb3b30" stroke-width="0.9" stroke-linejoin="round"/>
<polygon points="387.20,216.40 389.50,201.72 392.10,143.00 393.90,201.72 397.70,208.69 402.20,216.40" fill="#b4b7b7" stroke="#2a2a2a" stroke-width="0.7" stroke-linejoin="round"/>
<path d="M335.8,139.0 V216.4 H413.9" fill="none" stroke="#333" stroke-width="0.8"/>
<path d="M335.8,217.0 H413.9" fill="none" stroke="#666" stroke-width="1" stroke-dasharray="0.6,2.2"/>
<path d="M334.5,143.0 H335.8" stroke="#444" stroke-width="0.6"/>
<text x="333.30" y="144.80" font-size="5.1" font-weight="bold" fill="#111" text-anchor="end" textLength="8.3" lengthAdjust="spacingAndGlyphs" >100</text>
<path d="M334.5,157.7 H335.8" stroke="#444" stroke-width="0.6"/>
<text x="333.30" y="159.50" font-size="5.1" font-weight="bold" fill="#111" text-anchor="end" textLength="5.4" lengthAdjust="spacingAndGlyphs" >80</text>
<path d="M334.5,172.4 H335.8" stroke="#444" stroke-width="0.6"/>
<text x="333.30" y="174.20" font-size="5.1" font-weight="bold" fill="#111" text-anchor="end" textLength="5.4" lengthAdjust="spacingAndGlyphs" >60</text>
<path d="M334.5,187.1 H335.8" stroke="#444" stroke-width="0.6"/>
<text x="333.30" y="188.90" font-size="5.1" font-weight="bold" fill="#111" text-anchor="end" textLength="5.4" lengthAdjust="spacingAndGlyphs" >40</text>
<path d="M334.5,201.7 H335.8" stroke="#444" stroke-width="0.6"/>
<text x="333.30" y="203.50" font-size="5.1" font-weight="bold" fill="#111" text-anchor="end" textLength="5.4" lengthAdjust="spacingAndGlyphs" >20</text>
<path d="M334.5,216.4 H335.8" stroke="#444" stroke-width="0.6"/>
<text x="333.30" y="218.20" font-size="5.1" font-weight="bold" fill="#111" text-anchor="end" >0</text>
<text x="344.50" y="226.20" font-size="5.1" font-weight="bold" fill="#111" text-anchor="middle" >0</text>
<text x="349.40" y="226.20" font-size="5.1" font-weight="bold" fill="#111" text-anchor="start" textLength="5.3" lengthAdjust="spacingAndGlyphs" >10</text>
<text x="354.80" y="223.60" font-size="3.5" font-weight="bold" fill="#111" text-anchor="start" >2</text>
<text x="368.00" y="226.20" font-size="5.1" font-weight="bold" fill="#111" text-anchor="start" textLength="5.3" lengthAdjust="spacingAndGlyphs" >10</text>
<text x="373.40" y="223.60" font-size="3.5" font-weight="bold" fill="#111" text-anchor="start" >3</text>
<text x="386.30" y="226.20" font-size="5.1" font-weight="bold" fill="#111" text-anchor="start" textLength="5.3" lengthAdjust="spacingAndGlyphs" >10</text>
<text x="391.70" y="223.60" font-size="3.5" font-weight="bold" fill="#111" text-anchor="start" >4</text>
<text x="403.10" y="226.20" font-size="5.1" font-weight="bold" fill="#111" text-anchor="start" textLength="5.3" lengthAdjust="spacingAndGlyphs" >10</text>
<text x="408.50" y="223.60" font-size="3.5" font-weight="bold" fill="#111" text-anchor="start" >5</text>
<rect x="435.0" y="139.0" width="78.1" height="77.40" fill="none" stroke="#d8d8d8" stroke-width="0.7"/>
<polygon points="448.50,216.40 452.90,193.65 456.90,157.68 460.70,143.73 462.90,149.61 464.50,151.07 465.20,165.02 466.80,179.70 468.50,177.13 469.10,192.18 471.40,198.78 474.10,195.41 474.70,204.66 476.30,208.33 478.50,205.02 479.10,211.26 480.80,213.10 484.10,216.40" fill="#eab89d" stroke="#bb3b30" stroke-width="0.9" stroke-linejoin="round"/>
<polygon points="486.30,216.40 488.60,201.72 491.20,143.00 493.00,201.72 497.00,207.22 501.50,216.40" fill="#b4b7b7" stroke="#2a2a2a" stroke-width="0.7" stroke-linejoin="round"/>
<path d="M435.0,139.0 V216.4 H513.1" fill="none" stroke="#333" stroke-width="0.8"/>
<path d="M435.0,217.0 H513.1" fill="none" stroke="#666" stroke-width="1" stroke-dasharray="0.6,2.2"/>
<path d="M433.7,143.0 H435.0" stroke="#444" stroke-width="0.6"/>
<text x="432.50" y="144.80" font-size="5.1" font-weight="bold" fill="#111" text-anchor="end" textLength="8.3" lengthAdjust="spacingAndGlyphs" >100</text>
<path d="M433.7,157.7 H435.0" stroke="#444" stroke-width="0.6"/>
<text x="432.50" y="159.50" font-size="5.1" font-weight="bold" fill="#111" text-anchor="end" textLength="5.4" lengthAdjust="spacingAndGlyphs" >80</text>
<path d="M433.7,172.4 H435.0" stroke="#444" stroke-width="0.6"/>
<text x="432.50" y="174.20" font-size="5.1" font-weight="bold" fill="#111" text-anchor="end" textLength="5.4" lengthAdjust="spacingAndGlyphs" >60</text>
<path d="M433.7,187.1 H435.0" stroke="#444" stroke-width="0.6"/>
<text x="432.50" y="188.90" font-size="5.1" font-weight="bold" fill="#111" text-anchor="end" textLength="5.4" lengthAdjust="spacingAndGlyphs" >40</text>
<path d="M433.7,201.7 H435.0" stroke="#444" stroke-width="0.6"/>
<text x="432.50" y="203.50" font-size="5.1" font-weight="bold" fill="#111" text-anchor="end" textLength="5.4" lengthAdjust="spacingAndGlyphs" >20</text>
<path d="M433.7,216.4 H435.0" stroke="#444" stroke-width="0.6"/>
<text x="432.50" y="218.20" font-size="5.1" font-weight="bold" fill="#111" text-anchor="end" >0</text>
<text x="443.70" y="226.20" font-size="5.1" font-weight="bold" fill="#111" text-anchor="middle" >0</text>
<text x="448.60" y="226.20" font-size="5.1" font-weight="bold" fill="#111" text-anchor="start" textLength="5.3" lengthAdjust="spacingAndGlyphs" >10</text>
<text x="454.00" y="223.60" font-size="3.5" font-weight="bold" fill="#111" text-anchor="start" >2</text>
<text x="467.20" y="226.20" font-size="5.1" font-weight="bold" fill="#111" text-anchor="start" textLength="5.3" lengthAdjust="spacingAndGlyphs" >10</text>
<text x="472.60" y="223.60" font-size="3.5" font-weight="bold" fill="#111" text-anchor="start" >3</text>
<text x="485.50" y="226.20" font-size="5.1" font-weight="bold" fill="#111" text-anchor="start" textLength="5.3" lengthAdjust="spacingAndGlyphs" >10</text>
<text x="490.90" y="223.60" font-size="3.5" font-weight="bold" fill="#111" text-anchor="start" >4</text>
<text x="502.30" y="226.20" font-size="5.1" font-weight="bold" fill="#111" text-anchor="start" textLength="5.3" lengthAdjust="spacingAndGlyphs" >10</text>
<text x="507.70" y="223.60" font-size="3.5" font-weight="bold" fill="#111" text-anchor="start" >5</text>
<path d="M12.6,204.4 V194" stroke="#000" stroke-width="2"/>
<path d="M12.6,185.7 L16.7,195.3 L8.5,195.3 Z" fill="#000"/>
<text x="2.00" y="212.70" font-size="8.9" font-weight="bold" fill="#111" text-anchor="start" textLength="17.8" lengthAdjust="spacingAndGlyphs" >% of</text>
<text x="2.00" y="223.50" font-size="9.0" font-weight="bold" fill="#111" text-anchor="start" textLength="15.9" lengthAdjust="spacingAndGlyphs" >Max</text>
<text x="15.80" y="236.20" font-size="8.9" font-weight="bold" fill="#111" text-anchor="start" textLength="21.9" lengthAdjust="spacingAndGlyphs" >CFSE</text>
<path d="M40.7,233.4 H52" stroke="#000" stroke-width="2"/>
<path d="M60.7,233.4 L50.9,229.9 L50.9,237 Z" fill="#000"/>
<text x="75.40" y="237.80" font-size="8.6" font-weight="bold" fill="#111" text-anchor="middle" >0</text>
<text x="173.80" y="237.80" font-size="8.6" font-weight="bold" fill="#111" text-anchor="middle" >0.1</text>
<text x="273.00" y="237.80" font-size="8.6" font-weight="bold" fill="#111" text-anchor="middle" >0.5</text>
<text x="370.70" y="237.80" font-size="8.6" font-weight="bold" fill="#111" text-anchor="middle" >1</text>
<text x="469.20" y="237.80" font-size="8.6" font-weight="bold" fill="#111" text-anchor="middle" >5</text>
<path d="M70.6,242.3 V246.5 H238" fill="none" stroke="#000" stroke-width="1.7"/>
<path d="M307.9,246.5 H476.5 V242.1" fill="none" stroke="#000" stroke-width="1.7"/>
<text x="241" y="249" font-size="7.6" font-weight="bold" fill="#111" textLength="58.2" lengthAdjust="spacingAndGlyphs">Ibrutinib ( <tspan font-weight="normal">&#956;</tspan>M)</text>
<text x="0.80" y="276.50" font-size="12.0" font-weight="bold" fill="#000" text-anchor="start" textLength="7.4" lengthAdjust="spacingAndGlyphs" >C</text>
<path d="M21.1,278.3 V350.3 H128.5" fill="none" stroke="#000" stroke-width="1"/>
<path d="M19.6,350.30 H21.1" stroke="#000" stroke-width="0.8"/>
<text x="18.90" y="352.00" font-size="4.7" font-weight="bold" fill="#333" text-anchor="end" >0</text>
<path d="M19.6,335.28 H21.1" stroke="#000" stroke-width="0.8"/>
<text x="18.90" y="336.98" font-size="4.7" font-weight="bold" fill="#333" text-anchor="end" >25</text>
<path d="M19.6,320.25 H21.1" stroke="#000" stroke-width="0.8"/>
<text x="18.90" y="321.95" font-size="4.7" font-weight="bold" fill="#333" text-anchor="end" >50</text>
<path d="M19.6,305.23 H21.1" stroke="#000" stroke-width="0.8"/>
<text x="18.90" y="306.93" font-size="4.7" font-weight="bold" fill="#333" text-anchor="end" >75</text>
<path d="M19.6,290.20 H21.1" stroke="#000" stroke-width="0.8"/>
<text x="18.90" y="291.90" font-size="4.7" font-weight="bold" fill="#333" text-anchor="end" >100</text>
<path d="M20.96,350.3 V351.3" stroke="#000" stroke-width="0.6"/>
<path d="M32.06,350.3 V351.3" stroke="#000" stroke-width="0.6"/>
<path d="M39.93,350.3 V351.3" stroke="#000" stroke-width="0.6"/>
<path d="M46.04,350.3 V351.3" stroke="#000" stroke-width="0.6"/>
<path d="M51.02,350.3 V351.3" stroke="#000" stroke-width="0.6"/>
<path d="M55.24,350.3 V351.3" stroke="#000" stroke-width="0.6"/>
<path d="M58.89,350.3 V351.3" stroke="#000" stroke-width="0.6"/>
<path d="M62.12,350.3 V351.3" stroke="#000" stroke-width="0.6"/>
<path d="M83.96,350.3 V351.3" stroke="#000" stroke-width="0.6"/>
<path d="M95.06,350.3 V351.3" stroke="#000" stroke-width="0.6"/>
<path d="M102.93,350.3 V351.3" stroke="#000" stroke-width="0.6"/>
<path d="M109.04,350.3 V351.3" stroke="#000" stroke-width="0.6"/>
<path d="M114.02,350.3 V351.3" stroke="#000" stroke-width="0.6"/>
<path d="M118.24,350.3 V351.3" stroke="#000" stroke-width="0.6"/>
<path d="M121.89,350.3 V351.3" stroke="#000" stroke-width="0.6"/>
<path d="M125.12,350.3 V351.3" stroke="#000" stroke-width="0.6"/>
<path d="M65.00,350.3 V352.1" stroke="#000" stroke-width="0.8"/>
<path d="M128.00,350.3 V352.1" stroke="#000" stroke-width="0.8"/>
<text x="65.00" y="357.40" font-size="4.7" font-weight="bold" fill="#333" text-anchor="middle" >1</text>
<text x="128.00" y="357.40" font-size="4.7" font-weight="bold" fill="#333" text-anchor="middle" >10</text>
<text x="54.70" y="365.80" font-size="5.4" font-weight="bold" fill="#222" text-anchor="start" textLength="39.6" lengthAdjust="spacingAndGlyphs" >Effector:Target</text>
<text transform="translate(5.6,315.2) rotate(-90)" font-size="5.3" font-weight="bold" fill="#333" text-anchor="middle" textLength="43.5" lengthAdjust="spacingAndGlyphs">% Specific Lysis</text>
<polyline points="32.40,332.87 73.20,335.28 98.00,332.87 128.00,335.28" fill="none" stroke="#111" stroke-width="1.2"/>
<circle cx="32.4" cy="332.87" r="1.3" fill="#111"/>
<circle cx="73.2" cy="335.28" r="1.3" fill="#111"/>
<circle cx="98.0" cy="332.87" r="1.3" fill="#111"/>
<circle cx="128.0" cy="335.28" r="1.3" fill="#111"/>
<polyline points="32.40,333.47 73.20,335.28 98.00,336.48 128.00,331.07" fill="none" stroke="#111" stroke-width="1.2"/>
<circle cx="32.4" cy="333.47" r="1.3" fill="#111"/>
<circle cx="73.2" cy="335.28" r="1.3" fill="#111"/>
<circle cx="98.0" cy="336.48" r="1.3" fill="#111"/>
<circle cx="128.0" cy="331.07" r="1.3" fill="#111"/>
<polyline points="32.40,333.47 73.20,334.67 98.00,332.87 128.00,340.38" fill="none" stroke="#111" stroke-width="1.2"/>
<circle cx="32.4" cy="333.47" r="1.3" fill="#111"/>
<circle cx="73.2" cy="334.67" r="1.3" fill="#111"/>
<circle cx="98.0" cy="332.87" r="1.3" fill="#111"/>
<circle cx="128.0" cy="340.38" r="1.3" fill="#111"/>
<polyline points="32.40,326.86 73.20,324.46 98.00,306.43 128.00,296.21" fill="none" stroke="#c40a1e" stroke-width="1.6"/>
<circle cx="32.4" cy="326.86" r="1.5" fill="#c40a1e"/>
<circle cx="73.2" cy="324.46" r="1.5" fill="#c40a1e"/>
<circle cx="98.0" cy="306.43" r="1.5" fill="#c40a1e"/>
<circle cx="128.0" cy="296.21" r="1.5" fill="#c40a1e"/>
<polyline points="32.40,328.66 73.20,325.06 98.00,311.84 128.00,297.41" fill="none" stroke="#c40a1e" stroke-width="1.6"/>
<circle cx="32.4" cy="328.66" r="1.5" fill="#c40a1e"/>
<circle cx="73.2" cy="325.06" r="1.5" fill="#c40a1e"/>
<circle cx="98.0" cy="311.84" r="1.5" fill="#c40a1e"/>
<circle cx="128.0" cy="297.41" r="1.5" fill="#c40a1e"/>
<polyline points="32.40,329.87 73.20,325.06 98.00,307.03 128.00,296.81" fill="none" stroke="#c40a1e" stroke-width="1.6"/>
<circle cx="32.4" cy="329.87" r="1.5" fill="#c40a1e"/>
<circle cx="73.2" cy="325.06" r="1.5" fill="#c40a1e"/>
<circle cx="98.0" cy="307.03" r="1.5" fill="#c40a1e"/>
<circle cx="128.0" cy="296.81" r="1.5" fill="#c40a1e"/>
<path d="M98,314.24 V309.43 M96.8,314.24 H99.2" stroke="#c40a1e" stroke-width="0.8"/>
<path d="M130.8,283.4 H140" stroke="#c40a1e" stroke-width="1.0"/>
<path d="M133.40,283.4 L135.3,281.88 L137.20,283.4 L135.3,284.92 Z" fill="#c40a1e"/>
<text x="143.80" y="285.50" font-size="4.6" font-weight="bold" fill="#222" text-anchor="start" textLength="37.5" lengthAdjust="spacing" >CTL019 (DMSO)</text>
<path d="M130.8,291.7 H140" stroke="#111" stroke-width="1.0"/>
<path d="M133.80,291.7 L135.3,290.50 L136.80,291.7 L135.3,292.90 Z" fill="#111"/>
<text x="143.80" y="293.80" font-size="4.6" font-weight="bold" fill="#222" text-anchor="start" textLength="54.5" lengthAdjust="spacing" >Untransduced (DMSO)</text>
<path d="M130.8,299.6 H140" stroke="#c40a1e" stroke-width="1.0"/>
<path d="M133.40,299.6 L135.3,298.08 L137.20,299.6 L135.3,301.12 Z" fill="#c40a1e"/>
<text x="143.80" y="301.70" font-size="4.6" font-weight="bold" fill="#222" text-anchor="start" textLength="41.8" lengthAdjust="spacing" >CTL019 (1&#956;M Ibr.)</text>
<path d="M130.8,307.8 H140" stroke="#111" stroke-width="1.0"/>
<path d="M133.80,307.8 L135.3,306.60 L136.80,307.8 L135.3,309.00 Z" fill="#111"/>
<text x="143.80" y="309.90" font-size="4.6" font-weight="bold" fill="#222" text-anchor="start" textLength="59.3" lengthAdjust="spacing" >Untransduced (1&#956;M Ibr.)</text>
<path d="M130.8,316.0 H140" stroke="#c40a1e" stroke-width="1.0"/>
<path d="M133.40,316.0 L135.3,314.48 L137.20,316.0 L135.3,317.52 Z" fill="#c40a1e"/>
<text x="143.80" y="318.10" font-size="4.6" font-weight="bold" fill="#222" text-anchor="start" textLength="43.2" lengthAdjust="spacing" >CTL019 (5 &#956;M Ibr.)</text>
<path d="M130.8,324.6 H140" stroke="#111" stroke-width="1.0"/>
<path d="M133.80,324.6 L135.3,323.40 L136.80,324.6 L135.3,325.80 Z" fill="#111"/>
<text x="143.80" y="326.70" font-size="4.6" font-weight="bold" fill="#222" text-anchor="start" textLength="60.5" lengthAdjust="spacing" >Untransduced (5 &#956;M Ibr.)</text>
<text x="205.00" y="276.40" font-size="11.8" font-weight="bold" fill="#000" text-anchor="start" textLength="8.1" lengthAdjust="spacingAndGlyphs" >D</text>
<path d="M235.4,280.5 V351.3 H342.6" fill="none" stroke="#000" stroke-width="1"/>
<path d="M233.8,351.30 H235.4" stroke="#000" stroke-width="0.8"/>
<text x="232.60" y="353.00" font-size="4.7" font-weight="bold" fill="#333" text-anchor="end" >0</text>
<path d="M233.8,335.10 H235.4" stroke="#000" stroke-width="0.8"/>
<text x="232.60" y="336.80" font-size="4.7" font-weight="bold" fill="#333" text-anchor="end" >25</text>
<path d="M233.8,318.90 H235.4" stroke="#000" stroke-width="0.8"/>
<text x="232.60" y="320.60" font-size="4.7" font-weight="bold" fill="#333" text-anchor="end" >50</text>
<path d="M233.8,302.70 H235.4" stroke="#000" stroke-width="0.8"/>
<text x="232.60" y="304.40" font-size="4.7" font-weight="bold" fill="#333" text-anchor="end" >75</text>
<path d="M233.8,286.50 H235.4" stroke="#000" stroke-width="0.8"/>
<text x="232.60" y="288.20" font-size="4.7" font-weight="bold" fill="#333" text-anchor="end" >100</text>
<path d="M252.6,351.3 V353.1" stroke="#000" stroke-width="0.8"/>
<text x="252.60" y="358.90" font-size="4.7" font-weight="bold" fill="#333" text-anchor="middle" >0</text>
<path d="M288.3,351.3 V353.1" stroke="#000" stroke-width="0.8"/>
<text x="288.30" y="358.90" font-size="4.7" font-weight="bold" fill="#333" text-anchor="middle" >1</text>
<path d="M323.9,351.3 V353.1" stroke="#000" stroke-width="0.8"/>
<text x="323.90" y="358.90" font-size="4.7" font-weight="bold" fill="#333" text-anchor="middle" >5</text>
<text x="270.80" y="366.00" font-size="5.2" font-weight="bold" fill="#222" text-anchor="start" textLength="36.5" lengthAdjust="spacingAndGlyphs" >Ibrutinib (&#956;M)</text>
<text transform="translate(222.6,316.4) rotate(-90)" font-size="5.3" font-weight="normal" fill="#111" stroke="#111" stroke-width="0.15" text-anchor="middle" textLength="37" lengthAdjust="spacingAndGlyphs">Normalized %</text>
<rect x="241.6" y="286.50" width="9.30" height="64.80" fill="#fff" stroke="#000" stroke-width="0.9"/>
<rect x="254.9" y="286.50" width="9.50" height="64.80" fill="#c40a1e" stroke="#000" stroke-width="0.9"/>
<rect x="277.3" y="284.56" width="9.30" height="66.74" fill="#fff" stroke="#000" stroke-width="0.9"/>
<rect x="291.1" y="305.29" width="9.30" height="46.01" fill="#c40a1e" stroke="#000" stroke-width="0.9"/>
<path d="M317.75,298.49 V294.92 M316.15,294.92 H319.35" stroke="#000" stroke-width="0.9"/>
<rect x="313.2" y="298.49" width="9.10" height="52.81" fill="#fff" stroke="#000" stroke-width="0.9"/>
<path d="M331.10,337.04 V333.16 M329.50,333.16 H332.70" stroke="#000" stroke-width="0.9"/>
<rect x="326.4" y="337.04" width="9.40" height="14.26" fill="#c40a1e" stroke="#000" stroke-width="0.9"/>
<path d="M282.1,282.1 V279.8 H296.6 V282.1" fill="none" stroke="#000" stroke-width="0.9"/>
<text x="289.30" y="279.60" font-size="7.2" font-weight="bold" fill="#000" text-anchor="middle" textLength="5.6" lengthAdjust="spacingAndGlyphs" >**</text>
<path d="M317.4,292.9 V290.6 H331.9 V292.9" fill="none" stroke="#000" stroke-width="0.9"/>
<text x="324.90" y="290.60" font-size="7.2" font-weight="bold" fill="#000" text-anchor="middle" >*</text>
<rect x="342.5" y="283.2" width="8" height="3" fill="#fff" stroke="#000" stroke-width="0.9"/>
<rect x="342.5" y="291.5" width="8" height="3" fill="#7a0f1c" stroke="#000" stroke-width="0.9"/>
<text x="354.90" y="286.70" font-size="4.9" font-weight="bold" fill="#444" text-anchor="start" textLength="11.1" lengthAdjust="spacingAndGlyphs" >IL-12</text>
<text x="354.90" y="294.40" font-size="4.9" font-weight="bold" fill="#444" text-anchor="start" textLength="8.1" lengthAdjust="spacingAndGlyphs" >IL-4</text>
<text x="372.00" y="276.40" font-size="11.8" font-weight="bold" fill="#000" text-anchor="start" textLength="6.6" lengthAdjust="spacingAndGlyphs" >E</text>
<path d="M398.5,280.8 V351.6 H505.6" fill="none" stroke="#000" stroke-width="1"/>
<path d="M396.9,351.60 H398.5" stroke="#000" stroke-width="0.8"/>
<text x="395.50" y="353.30" font-size="4.8" font-weight="bold" fill="#333" text-anchor="end" >0</text>
<path d="M396.9,337.44 H398.5" stroke="#000" stroke-width="0.8"/>
<text x="395.50" y="339.14" font-size="4.8" font-weight="bold" fill="#333" text-anchor="end" >20</text>
<path d="M396.9,323.28 H398.5" stroke="#000" stroke-width="0.8"/>
<text x="395.50" y="324.98" font-size="4.8" font-weight="bold" fill="#333" text-anchor="end" >40</text>
<path d="M396.9,309.12 H398.5" stroke="#000" stroke-width="0.8"/>
<text x="395.50" y="310.82" font-size="4.8" font-weight="bold" fill="#333" text-anchor="end" >60</text>
<path d="M396.9,294.96 H398.5" stroke="#000" stroke-width="0.8"/>
<text x="395.50" y="296.66" font-size="4.8" font-weight="bold" fill="#333" text-anchor="end" >80</text>
<path d="M396.9,280.80 H398.5" stroke="#000" stroke-width="0.8"/>
<text x="395.50" y="282.50" font-size="4.8" font-weight="bold" fill="#333" text-anchor="end" >100</text>
<path d="M415.8,351.6 V353.40000000000003" stroke="#000" stroke-width="0.8"/>
<text x="415.80" y="359.20" font-size="4.7" font-weight="bold" fill="#333" text-anchor="middle" >0</text>
<path d="M451.3,351.6 V353.40000000000003" stroke="#000" stroke-width="0.8"/>
<text x="451.30" y="359.20" font-size="4.7" font-weight="bold" fill="#333" text-anchor="middle" >1</text>
<path d="M486.8,351.6 V353.40000000000003" stroke="#000" stroke-width="0.8"/>
<text x="486.80" y="359.20" font-size="4.7" font-weight="bold" fill="#333" text-anchor="middle" >5</text>
<text x="433.60" y="366.00" font-size="5.2" font-weight="bold" fill="#222" text-anchor="start" textLength="35.5" lengthAdjust="spacingAndGlyphs" >Ibrutinib (&#956;M)</text>
<text transform="translate(386.0,317.6) rotate(-90)" font-size="5.3" font-weight="normal" fill="#111" stroke="#111" stroke-width="0.15" text-anchor="middle" textLength="36" lengthAdjust="spacingAndGlyphs">Normalized %</text>
<rect x="405.1" y="280.80" width="9.10" height="70.80" fill="#1a1a1a" stroke="#000" stroke-width="0.9"/>
<rect x="418.5" y="280.80" width="9.00" height="70.80" fill="#c40a1e" stroke="#000" stroke-width="0.9"/>
<path d="M444.95,297.08 V294.25 M443.35,294.25 H446.55" stroke="#000" stroke-width="0.9"/>
<rect x="440.3" y="297.08" width="9.30" height="54.52" fill="#1a1a1a" stroke="#000" stroke-width="0.9"/>
<path d="M457.75,301.33 V300.62 M456.15,300.62 H459.35" stroke="#000" stroke-width="0.9"/>
<rect x="453.1" y="301.33" width="9.30" height="50.27" fill="#c40a1e" stroke="#000" stroke-width="0.9"/>
<path d="M480.30,319.03 V316.20 M478.70,316.20 H481.90" stroke="#000" stroke-width="0.9"/>
<rect x="475.5" y="319.03" width="9.60" height="32.57" fill="#1a1a1a" stroke="#000" stroke-width="0.9"/>
<path d="M492.95,336.02 V331.07 M491.35,331.07 H494.55" stroke="#000" stroke-width="0.9"/>
<rect x="488.3" y="336.02" width="9.30" height="15.58" fill="#c40a1e" stroke="#000" stroke-width="0.9"/>
<path d="M444.3,292.3 V290 H459 V292.3" fill="none" stroke="#000" stroke-width="0.9"/>
<text x="452.40" y="287.70" font-size="6.4" font-weight="bold" fill="#222" text-anchor="middle" textLength="10.6" lengthAdjust="spacingAndGlyphs" >n.s.</text>
<path d="M480.3,314.9 V312.6 H495 V314.9" fill="none" stroke="#000" stroke-width="0.9"/>
<text x="487.80" y="313.00" font-size="7.2" font-weight="bold" fill="#000" text-anchor="middle" >*</text>
<rect x="496.4" y="283.8" width="8.5" height="3.8" fill="#111" stroke="#000" stroke-width="0.9"/>
<rect x="496.4" y="291.9" width="8.5" height="3.8" fill="#7a0f1c" stroke="#000" stroke-width="0.9"/>
<text x="508.10" y="287.80" font-size="4.9" font-weight="bold" fill="#444" text-anchor="start" textLength="11" lengthAdjust="spacingAndGlyphs" >IFN&#947;</text>
<text x="508.10" y="295.80" font-size="4.9" font-weight="bold" fill="#444" text-anchor="start" textLength="8.6" lengthAdjust="spacingAndGlyphs" >IL-4</text>
</svg>
</body></html>
